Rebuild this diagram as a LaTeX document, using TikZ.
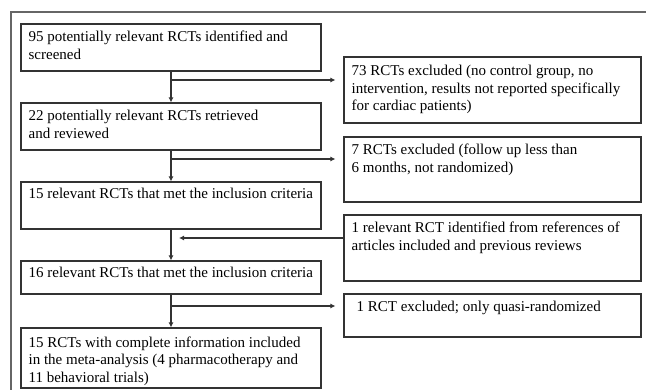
\documentclass[tikz,border=0pt]{standalone}
\usepackage{fontspec}
\setmainfont{Liberation Serif}
\usetikzlibrary{arrows.meta}
\begin{document}
\begin{tikzpicture}[x=1pt,y=-1pt,
  box/.style={draw=black!80, line width=1.1pt, inner sep=0pt, minimum width=#1},
  lbox/.style={box=300pt},
  rbox/.style={box=297pt},
  txt/.style={anchor=north west, inner sep=0pt, align=left, font=\fontsize{15}{17.5}\selectfont},
  arr/.style={draw=black!80, line width=1.1pt, -{Latex[length=5pt,width=5pt]}},
  ln/.style={draw=black!80, line width=1.1pt}]
\useasboundingbox (0,0) rectangle (646,390);
\begin{scope}
\clip (0,0) rectangle (646,390);
\draw[draw=black!60, line width=1.6pt] (11,12) rectangle (700,430);
\end{scope}
% left column
\node[lbox, minimum height=47pt] (l1) at (171,47.5) {};
\node[lbox, minimum height=47pt] (l2) at (171,126.5) {};
\node[lbox, minimum height=47pt] (l3) at (171,205.5) {};
\node[lbox, minimum height=33pt] (l4) at (171,277.5) {};
\node[lbox, minimum height=60pt] (l5) at (171,358) {};
% right column
\node[rbox, minimum height=66pt] (ra) at (492.5,90) {};
\node[rbox, minimum height=65pt] (rb) at (492.5,169.5) {};
\node[rbox, minimum height=66pt] (rc) at (492.5,248) {};
\node[rbox, minimum height=43pt] (rd) at (492.5,315.5) {};
% texts
\node[txt] (t1) at ([shift={(8,5.75)}]l1.north west) {\strut 95 potentially relevant RCTs identified and\\ screened};
\node[txt] (t2) at ([shift={(8,5.75)}]l2.north west) {\strut 22 potentially relevant RCTs retrieved\\ and reviewed};
\node[txt] (t3) at ([shift={(8,4.75)}]l3.north west) {\strut 15 relevant RCTs that met the inclusion criteria};
\node[txt] (t4) at ([shift={(8,4.75)}]l4.north west) {\strut 16 relevant RCTs that met the inclusion criteria};
\node[txt] (t5) at ([shift={(8,7.5)}]l5.north west) {\strut 15 RCTs with complete information included\\ in the meta-analysis (4 pharmacotherapy and\\ 11 behavioral trials)};
\node[txt] (ta) at ([shift={(8,6.75)}]ra.north west) {\strut 73 RCTs excluded (no control group, no\\ intervention, results not reported specifically\\ for cardiac patients)};
\node[txt] (tb) at ([shift={(8,5.75)}]rb.north west) {\strut 7 RCTs excluded (follow up less than\\ 6 months, not randomized)};
\node[txt] (tc) at ([shift={(8,5.75)}]rc.north west) {\strut 1 relevant RCT identified from references of\\ articles included and previous reviews};
\node[txt] (td) at ([shift={(13,5.75)}]rd.north west) {\strut 1 RCT excluded; only quasi-randomized};
% connectors
\draw[arr] (l1.south) -- (l2.north);
\draw[arr] (l2.south) -- (l3.north);
\draw[arr] (l3.south) -- (l4.north);
\draw[arr] (l4.south) -- (l5.north);
\coordinate (j1) at (171,80);
\coordinate (j2) at (171,159);
\coordinate (j3) at (171,238);
\coordinate (j4) at (171,306);
\draw[arr, shorten >=8pt] (j1) -- (j1 -| ra.west);
\draw[arr, shorten >=8pt] (j2) -- (j2 -| rb.west);
\draw[arr, shorten >=8pt] (j3 -| rc.west) -- (j3);
\draw[arr, shorten >=8pt] (j4) -- (j4 -| rd.west);
\end{tikzpicture}
\end{document}
